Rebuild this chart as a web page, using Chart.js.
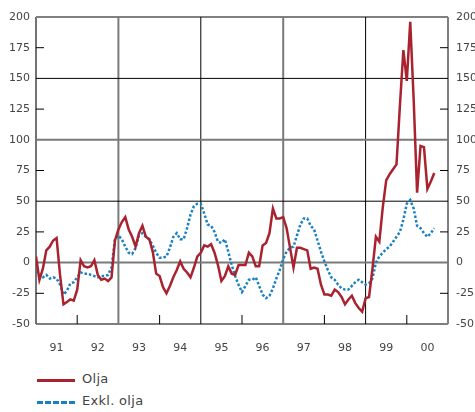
<!DOCTYPE html>
<html>
<head>
<meta charset="utf-8">
<script src="https://cdn.jsdelivr.net/npm/chart.js@4.4.0/dist/chart.umd.min.js"></script>
<style>
  body { margin: 0; background: #fff; width: 475px; height: 412px; overflow: hidden; position: relative; font-family: "DejaVu Sans", sans-serif; }
  #wrap { position: absolute; left: 0; top: 0; width: 475px; height: 355px; }
  .leg { position: absolute; left: 37px; font-size: 13px; color: #444; letter-spacing: 0.3px; }
  .leg span.ln { position: absolute; left: 0; width: 38px; height: 0; }
  .leg span.tx { position: absolute; left: 45px; top: -9px; white-space: nowrap; }
</style>
</head>
<body>
<div id="wrap"><canvas id="chart"></canvas></div>
<div class="leg" style="top:380px"><span class="ln" style="border-top:3px solid #a8232f; top:-1px"></span><span class="tx">Olja</span></div>
<div class="leg" style="top:402px"><span class="ln" style="border-top:3px dashed #1a80c4; top:-1px"></span><span class="tx">Exkl. olja</span></div>
<script>
// monthly, jan 1991 - sep 2000 (x = months since jan 91)
const yearLabels = ['91','92','93','94','95','96','97','98','99','00'];
const yTicks = [-50,-25,0,25,50,75,100,125,150,175,200];

const olja = [
  5,-14,-5,10,13,18,20,-10,-34,-32,-30,-31,
  -22,2,-3,-4,-3,2,-10,-14,-13,-15,-12,18,
  27,33,37,27,21,13,24,30,21,19,9,-9,
  -11,-20,-25,-19,-12,-6,1,-5,-8,-12,-4,5,
  8,14,13,15,8,-2,-15,-11,-3,-9,-10,-2,
  -2,-2,8,5,-3,-3,14,16,24,44,36,36,
  37,28,12,-4,12,12,11,10,-5,-4,-5,-18,
  -26,-26,-27,-22,-24,-28,-34,-30,-27,-33,-37,-40,
  -29,-28,-5,21,17,45,67,72,76,80,128,173,
  148,196,133,57,95,94,60,66,73
];

const exklOlja = [
  -7,-11,-12,-10,-13,-12,-13,-18,-26,-23,-17,-16,
  -12,-8,-9,-9,-10,-11,-12,-11,-11,-10,-4,19,
  22,19,13,8,7,12,22,24,21,19,14,8,
  4,4,5,12,21,24,19,19,28,39,46,48,
  48,40,31,30,25,17,16,19,9,-2,-11,-18,
  -24,-19,-14,-14,-12,-19,-26,-29,-27,-21,-13,-6,
  3,9,12,13,22,31,36,36,30,27,18,9,
  1,-6,-12,-14,-18,-21,-22,-22,-19,-16,-14,-16,
  -18,-17,-13,0,5,8,11,13,17,21,25,35,
  48,51,44,30,28,24,21,24,28
];

// reference lines, in axis units
const xMin = 0, xMax = 120, yMin = -50, yMax = 200;
const hGridGrey = [0, 100];
const hGridBlack = [50, 150];
const vGridGrey = [24, 72];
const vGridBlack = [48, 96];
const yMinorTicks = [-25, 25, 75, 125, 175];
const xMinorTicks = [12, 36, 60, 84, 108];

const toPoints = arr => arr.map((v, i) => ({ x: i, y: v }));

const GREY = '#7a7a7a';

function refLine(points, color, width, clip) {
  return {
    data: points,
    borderColor: color,
    borderWidth: width,
    pointRadius: 0,
    pointHoverRadius: 0,
    tension: 0,
    order: 2,
    clip: clip
  };
}
const hLine = (v, color, width, clip) => refLine([{ x: xMin, y: v }, { x: xMax, y: v }], color, width, clip);
const vLine = (v, color, width, clip) => refLine([{ x: v, y: yMin }, { x: v, y: yMax }], color, width, clip);

// short inner tick marks: 'line' point style, half of it clipped away by the chart area
function tickMarks(points, len, rot) {
  return {
    data: points,
    showLine: false,
    pointStyle: 'line',
    pointRadius: len,
    pointHoverRadius: len,
    pointRotation: rot,
    pointBorderColor: '#000',
    pointBorderWidth: 1,
    order: 1,
    clip: 0
  };
}

const gridSets = [
  ...hGridGrey.map(v => hLine(v, GREY, 2, 0)),
  ...hGridBlack.map(v => hLine(v, '#000', 1, 0)),
  ...vGridGrey.map(v => vLine(v, GREY, 2, 0)),
  ...vGridBlack.map(v => vLine(v, '#000', 1, 0)),
  tickMarks(yMinorTicks.map(v => ({ x: xMin, y: v })), 8, 0),
  tickMarks(yMinorTicks.map(v => ({ x: xMax, y: v })), 8, 0),
  tickMarks(xMinorTicks.map(v => ({ x: v, y: yMin })), 9, 90),
  // frame
  hLine(yMax, '#808080', 2, false),
  vLine(xMax, '#808080', 2, false),
  hLine(yMin, '#555', 1.5, false),
  vLine(xMin, '#444', 1.5, false)
];

const tickFont = { family: 'DejaVu Sans', size: 11 };

new Chart(document.getElementById('chart'), {
  type: 'line',
  data: {
    datasets: [
      {
        label: 'Olja',
        data: toPoints(olja),
        borderColor: '#a8232f',
        borderWidth: 2.5,
        pointRadius: 0,
        tension: 0,
        order: 0
      },
      {
        label: 'Exkl. olja',
        data: toPoints(exklOlja),
        borderColor: '#1a80c4',
        borderWidth: 2.5,
        borderDash: [2.5, 2],
        pointRadius: 0,
        tension: 0,
        order: 0
      },
      ...gridSets
    ]
  },
  options: {
    responsive: true,
    maintainAspectRatio: false,
    animation: false,
    events: [],
    layout: { padding: { top: 17, left: 0, right: 0, bottom: 0 } },
    plugins: {
      legend: { display: false },
      tooltip: { enabled: false }
    },
    scales: {
      x: {
        type: 'linear',
        min: xMin,
        max: xMax,
        grid: { display: false },
        border: { display: false },
        afterBuildTicks: s => { s.ticks = yearLabels.map((l, i) => ({ value: 6 + i * 12 })); },
        afterFit: s => { s.height = 31; },
        ticks: {
          autoSkip: false,
          maxRotation: 0,
          padding: 10,
          color: '#444',
          font: tickFont,
          callback: v => yearLabels[Math.round((v - 6) / 12)]
        }
      },
      y: {
        position: 'left',
        min: yMin,
        max: yMax,
        grid: { display: false, drawTicks: false },
        border: { display: false },
        afterBuildTicks: s => { s.ticks = yTicks.map(v => ({ value: v })); },
        afterFit: s => { s.width = 36; },
        ticks: { padding: 6, color: '#444', font: tickFont }
      },
      y2: {
        position: 'right',
        min: yMin,
        max: yMax,
        grid: { display: false, drawTicks: false },
        border: { display: false },
        afterBuildTicks: s => { s.ticks = yTicks.map(v => ({ value: v })); },
        afterFit: s => { s.width = 27; },
        ticks: { padding: 8, color: '#444', font: tickFont }
      }
    }
  }
});
</script>
</body>
</html>
